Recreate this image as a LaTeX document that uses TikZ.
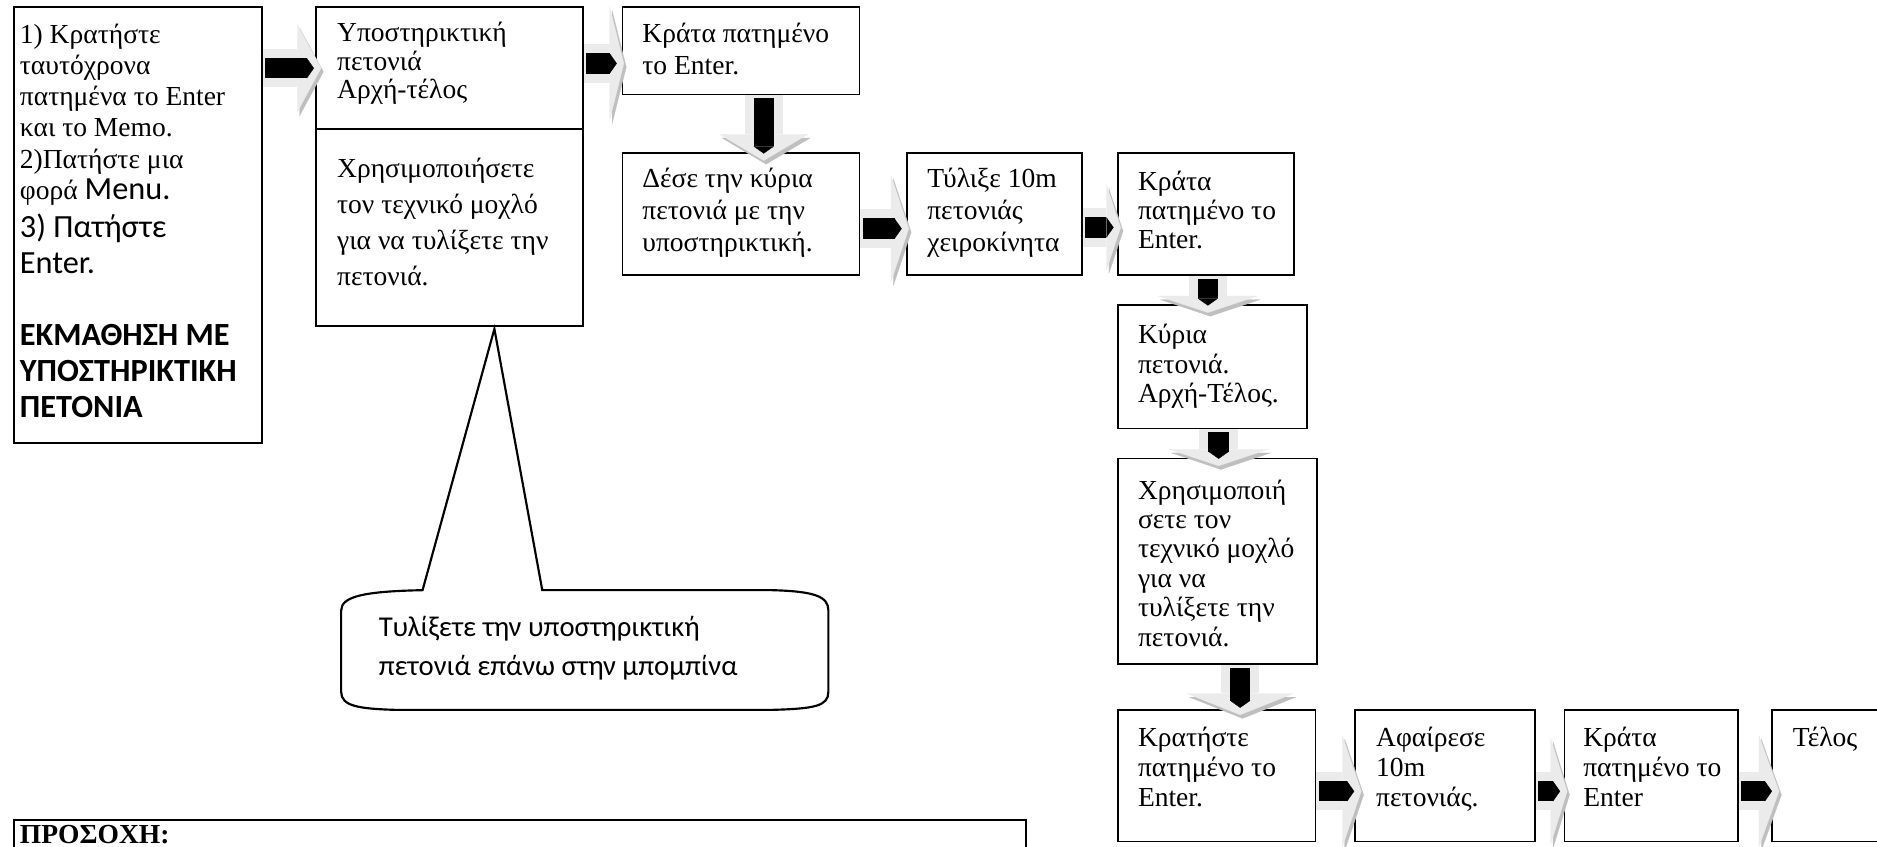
\documentclass[tikz,border=0pt]{standalone}
\usepackage{fontspec}
\setmainfont{Liberation Serif}
\newfontfamily\calibri{Carlito}
\usetikzlibrary{positioning, arrows.meta, calc, fit}

\begin{document}
\begin{tikzpicture}[
                x=0.5pt, y=-0.5pt,
                stepbox/.style={draw=black, line width=0.75pt, inner sep=0pt, fill=white},
                boxtext/.style={anchor=north west, inner sep=0pt, align=left, font=\fontsize{11.5}{#1}\selectfont},
                boxtext/.default=13,
                sanstext/.style={anchor=north west, inner sep=0pt, align=left, font=\calibri\fontsize{13.5}{15}\selectfont},
                notetext/.style={anchor=north west, inner sep=0pt, align=left, font=\calibri\fontsize{12}{16.5}\selectfont},
                callout/.style={draw=black, line width=0.9pt, fill=white},
                blockarrow/.style 2 args={line width=16pt, draw=gray!16, -{Triangle[length=#2, width=#1, line width=0.1pt]},
                    preaction={draw=gray!50, transform canvas={shift={(1pt,-1.5pt)}}},
                    postaction={draw=black, line width=8.5pt, shorten <=1pt, shorten >=3pt, -{Triangle[length=3pt, width=8.5pt, line width=0.1pt]}}}
            ]
            \useasboundingbox (0,0) rectangle (1568,707);
            \clip (0,0) rectangle (1568,707);

            % boxes
            \node[stepbox, fit={(12,6) (219,370)}] (start) {};
            \node[stepbox, fit={(264,6) (487,108)}] (guide) {};
            \node[stepbox, fit={(264,108) (487,272)}] (lever1) {};
            \node[stepbox, fit={(520,6) (718,79)}] (hold1) {};
            \node[stepbox, fit={(520,128) (718,230)}] (tie) {};
            \node[stepbox, fit={(758,128) (904,230)}] (wind) {};
            \node[stepbox, fit={(934,128) (1081,230)}] (hold2) {};
            \node[stepbox, fit={(934,255) (1092,358)}] (mainline) {};
            \node[stepbox, fit={(934,383) (1100,555)}] (lever2) {};
            \node[stepbox, fit={(934,593) (1099,703)}] (keep) {};
            \node[stepbox, fit={(1132,593) (1282,703)}] (remove) {};
            \node[stepbox, fit={(1307,593) (1452,703)}] (hold3) {};
            \node[stepbox, fit={(1480,593) (1600,703)}] (finish) {};
            \node[stepbox, fit={(12,685) (857,760)}] (warn) {};

            % texts
            \node[boxtext] (start-t) at ($(start.north west)+(5,12.5)$) {\strut 1) Κρατήστε\\ταυτόχρονα\\πατημένα το Enter\\και το Memo.\\2)Πατήστε μια\\φορά {\calibri\fontsize{13.5}{13}\selectfont Menu.}};
            \node[sanstext] (start-c) at ($(start.north west)+(5,172)$) {\strut 3) Πατήστε\\Enter.\\[15pt]\textbf{ΕΚΜΑΘΗΣΗ ΜΕ}\\\textbf{ΥΠΟΣΤΗΡΙΚΤΙΚΗ}\\\textbf{ΠΕΤΟΝΙΑ}};
            \node[boxtext=11.9] (guide-t) at ($(guide.north west)+(18,12.5)$) {\strut Υποστηρικτική\\πετονιά\\Αρχή-τέλος};
            \node[boxtext=15] (lever1-t) at ($(lever1.north west)+(18,20)$) {\strut Χρησιμοποιήσετε\\τον τεχνικό μοχλό\\για να τυλίξετε την\\πετονιά.};
            \node[boxtext=13.5] (hold1-t) at ($(hold1.north west)+(17,11)$) {\strut Κράτα πατημένο\\το Enter.};
            \node[boxtext=13.25] (tie-t) at ($(tie.north west)+(17,10.5)$) {\strut Δέσε την κύρια\\πετονιά με την\\υποστηρικτική.};
            \node[boxtext=13.25] (wind-t) at ($(wind.north west)+(17,10.5)$) {\strut Τύλιξε 10m\\πετονιάς\\χειροκίνητα};
            \node[boxtext=12] (hold2-t) at ($(hold2.north west)+(17,15)$) {\strut Κράτα\\πατημένο το\\Enter.};
            \node[boxtext=12.5] (mainline-t) at ($(mainline.north west)+(17,14.5)$) {\strut Κύρια\\πετονιά.\\Αρχή-Τέλος.};
            \node[boxtext=12.3] (lever2-t) at ($(lever2.north west)+(17,17)$) {\strut Χρησιμοποιή\\σετε τον\\τεχνικό μοχλό\\για να\\τυλίξετε την\\πετονιά.};
            \node[boxtext=12.5] (keep-t) at ($(keep.north west)+(17,13.5)$) {\strut Κρατήστε\\πατημένο το\\Enter.};
            \node[boxtext=12.5] (remove-t) at ($(remove.north west)+(18,13.5)$) {\strut Αφαίρεσε\\10m\\πετονιάς.};
            \node[boxtext=12.5] (hold3-t) at ($(hold3.north west)+(16,13.5)$) {\strut Κράτα\\πατημένο το\\Enter};
            \node[boxtext=12.5] (finish-t) at ($(finish.north west)+(18,13.5)$) {\strut Τέλος};
            \node[anchor=base west, inner sep=0pt, font=\bfseries\fontsize{11.5}{13}\selectfont] (warn-t) at ($(warn.north west)+(5,20)$) {ΠΡΟΣΟΧΗ:};

            % callout
            \coordinate (tip) at ($(lever1.south)+(37.5,2)$);
            \draw[callout] (285,510) .. controls (285,498) and (305,494) .. (353,493) -- (tip) -- (453,493) -- (645,493)
                .. controls (680,494) and (692,498) .. (692,510) -- (692,578) .. controls (692,590) and (680,592) .. (645,593)
                -- (330,593) .. controls (300,592) and (285,590) .. (285,578) -- cycle;
            \node[notetext] (note) at (316,508) {\strut Τυλίξετε την υποστηρικτική\\πετονιά επάνω στην μπομπίνα};

            % arrows
            \draw[blockarrow={37pt}{10pt}] (start.east |- guide.west) -- ($(guide.west)+(5,0)$);
            \draw[blockarrow={48pt}{6pt}] ($(guide.east |- hold1.west)+(0,10.5)$) -- ($(hold1.west)+(2,10.5)$);
            \draw[blockarrow={37pt}{11pt}] ($(hold1.south)+(19,0)$) -- ($(hold1.south |- tie.north)+(19,7)$);
            \draw[blockarrow={45pt}{7.5pt}] ($(tie.east)+(0,12)$) -- ($(wind.west)+(2,12)$);
            \draw[blockarrow={36pt}{6pt}] ($(wind.east)+(0,11)$) -- ($(hold2.west)+(3,11)$);
            \draw[blockarrow={42pt}{7pt}] ($(hold2.south)+(1.5,0)$) -- ($(hold2.south |- mainline.north)+(1.5,7)$);
            \draw[blockarrow={42pt}{7pt}] ($(mainline.south)+(5,0)$) -- ($(mainline.south |- lever2.north)+(5,7)$);
            \draw[blockarrow={45pt}{9pt}] ($(lever2.south)+(19,0)$) -- ($(lever2.south |- keep.north)+(19,5)$);
            \draw[blockarrow={47pt}{8pt}] ($(keep.east)+(0,13)$) -- ($(remove.west)+(6,13)$);
            \draw[blockarrow={45pt}{7pt}] ($(remove.east)+(0,13)$) -- ($(hold3.west)+(3,13)$);
            \draw[blockarrow={47pt}{8.5pt}] ($(hold3.east)+(0,13)$) -- ($(finish.west)+(7,13)$);

        \end{tikzpicture}
\end{document}
